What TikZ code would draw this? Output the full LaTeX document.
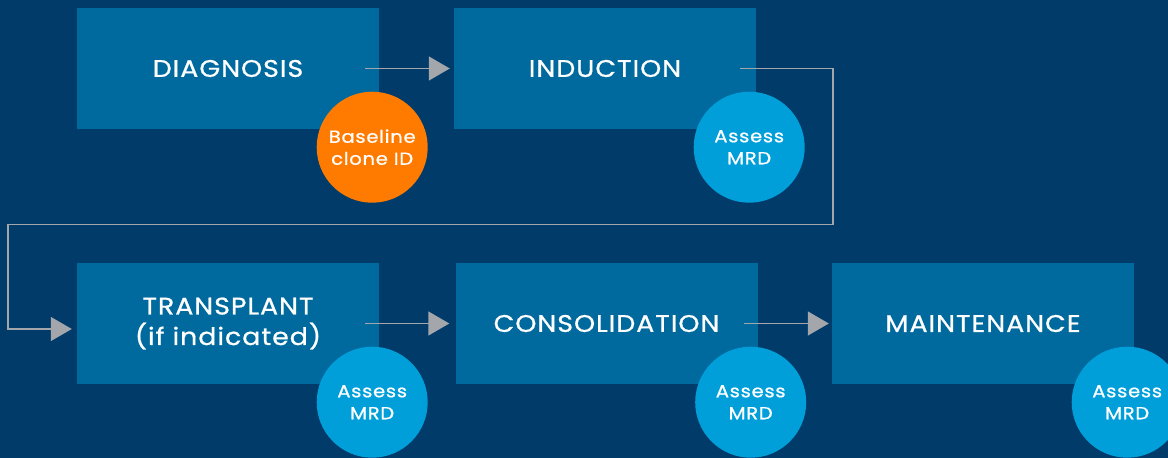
\documentclass[tikz,border=0pt]{standalone}
\usepackage{fontspec}
\setmainfont{Poppins}[FakeStretch=1.12,LetterSpace=4,FakeBold=0.8]
\usetikzlibrary{arrows.meta,positioning}

\definecolor{navybg}{HTML}{003B6A}
\definecolor{phasebox}{HTML}{006A9F}
\definecolor{mrdblue}{HTML}{009FDA}
\definecolor{cloneorange}{HTML}{FF7B00}
\definecolor{flowgray}{HTML}{A3A6AB}

\begin{document}
\begin{tikzpicture}[
    x=1pt,y=-1pt,
    phase/.style={fill=phasebox,text=white,minimum width=302pt,minimum height=121pt,
      align=center,font=\fontsize{24}{30.5}\selectfont,inner sep=0pt},
    check/.style={circle,fill=mrdblue,text=white,minimum size=111pt,inner sep=0pt,
      align=center,font=\fontsize{17.5}{22}\selectfont},
    flow/.style={draw=flowgray,line width=1.4pt,
      -{Triangle[width=24pt,length=21pt,fill=flowgray]}},
    >=Latex]
  % background, page cut to it
  \useasboundingbox (0,0) rectangle (1168,458);
  \clip (0,0) rectangle (1168,458);
  \fill[navybg] (0,0) rectangle (1168,458);

  % treatment phases
  \node[phase] (diag) at (228,68.5) {DIAGNOSIS};
  \node[phase] (induct) at (605,68.5) {INDUCTION};
  \node[phase] (trans) at (228,323.5) {TRANSPLANT\\(if indicated)};
  \node[phase] (consol) at (606.5,323.5) {CONSOLIDATION};
  \node[phase] (maint) at (983,323.5) {MAINTENANCE};

  % checkpoints
  \node[check,fill=cloneorange] (clone) at ([xshift=-7pt,yshift=-18pt]diag.south east) {Baseline\\clone ID};
  \node[check] (mrdA) at ([xshift=-7pt,yshift=-18pt]induct.south east) {Assess\\MRD};
  \node[check] (mrdB) at ([xshift=-7pt,yshift=-18pt]trans.south east) {Assess\\MRD};
  \node[check] (mrdC) at ([xshift=-7pt,yshift=-18pt]consol.south east) {Assess\\MRD};
  \node[check] (mrdD) at ([xshift=-7pt,yshift=-18pt]maint.south east) {Assess\\MRD};

  % connectors
  \coordinate (turnR) at (833,224.5);
  \coordinate (turnL) at (8,224.5);
  \draw[flow] ([xshift=-14pt]diag.east) -- ([xshift=-4pt]induct.west);
  \draw[flow] ([xshift=-16pt]induct.east) -| (turnR) -- (turnL)
    |- ([xshift=-5pt,yshift=-5.5pt]trans.west);
  \draw[flow] ([xshift=-14pt]trans.east) -- ([xshift=-6pt]consol.west);
  \draw[flow] ([xshift=-14pt]consol.east) -- ([xshift=-3pt]maint.west);
\end{tikzpicture}
\end{document}
